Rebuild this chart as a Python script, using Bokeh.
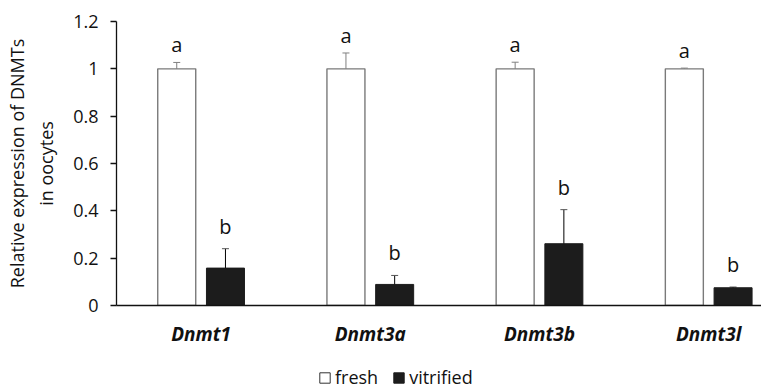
from bokeh.plotting import figure
from bokeh.layouts import column
from bokeh.models import (ColumnDataSource, Range1d, FixedTicker, Whisker, TeeHead,
                          LabelSet, Legend, LegendItem)
from bokeh.core.properties import value
from bokeh.transform import dodge
from bokeh.embed import file_html
from bokeh.resources import INLINE

# ---- data ----
genes = ["Dnmt1", "Dnmt3a", "Dnmt3b", "Dnmt3l"]
fresh = [1.0, 1.0, 1.0, 1.0]
fresh_err = [0.027, 0.067, 0.028, 0.003]
vitrified = [0.158, 0.089, 0.261, 0.075]
vitrified_err = [0.082, 0.038, 0.144, 0.003]
fresh_letters = ["a", "a", "a", "a"]
vitrified_letters = ["b", "b", "b", "b"]
series_names = ["fresh", "vitrified"]
y_ticks = [0, 0.2, 0.4, 0.6, 0.8, 1.0, 1.2]
y_tick_labels = ["0", "0.2", "0.4", "0.6", "0.8", "1", "1.2"]

FONT = "Open Sans"
TXT = "#111111"
FRESH_LINE = "#7a7a7a"
VIT_FILL = "#1c1c1c"

pos = [i + 0.5 for i in range(len(genes))]
src = ColumnDataSource(dict(
    pos=pos,
    fresh=fresh,
    fresh_lo=[v - e for v, e in zip(fresh, fresh_err)],
    fresh_hi=[v + e for v, e in zip(fresh, fresh_err)],
    vit=vitrified,
    vit_lo=[v - e for v, e in zip(vitrified, vitrified_err)],
    vit_hi=[v + e for v, e in zip(vitrified, vitrified_err)],
    fl=fresh_letters,
    vl=vitrified_letters,
))

p = figure(width=761, height=364, x_range=Range1d(0, 3.812), y_range=Range1d(0, 1.2),
           output_backend="svg", toolbar_location=None,
           min_border_left=116, min_border_right=0, min_border_top=21, min_border_bottom=59)
p.outline_line_color = None
p.xgrid.visible = False
p.ygrid.visible = False

OFF = 0.144
BW = 0.2246
xf = dodge("pos", -OFF, range=p.x_range)
xv = dodge("pos", OFF, range=p.x_range)

p.vbar(x=xf, top="fresh", width=BW, source=src,
       fill_color="white", line_color=FRESH_LINE, line_width=1.4)
p.vbar(x=xv, top="vit", width=BW, source=src,
       fill_color=VIT_FILL, line_color=VIT_FILL, line_width=1)

p.add_layout(Whisker(base=xf, upper="fresh_hi", lower="fresh_lo", source=src,
                     line_color="#808080", line_width=1,
                     upper_head=TeeHead(size=7, line_color="#808080", line_width=1),
                     lower_head=TeeHead(size=7, line_color="#808080", line_width=1)))
p.add_layout(Whisker(base=xv, upper="vit_hi", lower="vit_lo", source=src,
                     line_color="#000000", line_width=1,
                     upper_head=TeeHead(size=7, line_color="#555555", line_width=1),
                     lower_head=TeeHead(size=7, line_color="#000000", line_width=1)))

p.add_layout(LabelSet(x=xf, y="fresh_hi", text="fl", source=src, y_offset=10,
                      text_align="center", text_baseline="alphabetic",
                      text_font=value(FONT), text_font_size=value("20px"),
                      text_color=TXT))
p.add_layout(LabelSet(x=xv, y="vit_hi", text="vl", source=src, y_offset=15,
                      text_align="center", text_baseline="alphabetic",
                      text_font=value(FONT), text_font_size=value("20px"),
                      text_color=TXT))

# y axis
yax = p.yaxis[0]
yax.ticker = FixedTicker(ticks=y_ticks)
yax.major_label_overrides = dict(zip(y_ticks, y_tick_labels))
yax.major_label_text_font = FONT
yax.major_label_text_font_size = "18px"
yax.major_label_text_color = TXT
yax.major_label_standoff = 12
yax.major_tick_out = 6
yax.major_tick_in = 0
yax.minor_tick_line_color = None
yax.axis_line_color = "#111111"
yax.axis_line_width = 1.3
yax.major_tick_line_color = "#111111"
yax.major_tick_line_width = 1.3
yax.axis_label = "Relative expression of DNMTs\nin oocytes"
yax.axis_label_text_font = FONT
yax.axis_label_text_font_size = "18px"
yax.axis_label_text_font_style = "normal"
yax.axis_label_text_color = TXT
yax.axis_label_standoff = 12

# x axis
xax = p.xaxis[0]
xax.ticker = FixedTicker(ticks=pos)
xax.major_label_overrides = dict(zip(pos, genes))
xax.major_label_text_font = FONT
xax.major_label_text_font_size = "19px"
xax.major_label_text_font_style = "bold italic"
xax.major_label_text_color = TXT
xax.major_label_standoff = 9
xax.major_tick_line_color = None
xax.minor_tick_line_color = None
xax.axis_line_color = "#111111"
xax.axis_line_width = 1.5

# legend strip below the chart (its frame is aligned with the chart's frame)
pl = figure(width=761, height=25, x_range=Range1d(0, 3.812), y_range=Range1d(0, 1.2),
            output_backend="svg", toolbar_location=None,
            x_axis_location=None, y_axis_location=None,
            min_border_left=0, min_border_right=0, min_border_top=0, min_border_bottom=0)
pl.outline_line_color = None
pl.xgrid.visible = False
pl.ygrid.visible = False
lf = pl.vbar(x="pos", top="fresh", width=BW, source=src,
             fill_color="white", line_color="#333333", line_width=1)
lv = pl.vbar(x="pos", top="vit", width=BW, source=src,
             fill_color=VIT_FILL, line_color=VIT_FILL, line_width=1)
lf.visible = False
lv.visible = False

legend = Legend(items=[LegendItem(label=series_names[0], renderers=[lf]),
                       LegendItem(label=series_names[1], renderers=[lv])],
                orientation="horizontal", location=(202, 0),
                border_line_color=None, background_fill_alpha=0,
                padding=0, margin=0, spacing=14,
                glyph_width=13, glyph_height=13, label_standoff=4,
                label_text_font=FONT, label_text_font_size="18px",
                label_text_color=TXT)
pl.add_layout(legend)

layout = column(p, pl, spacing=0)
open("out.html", "w").write(file_html(layout, INLINE))
